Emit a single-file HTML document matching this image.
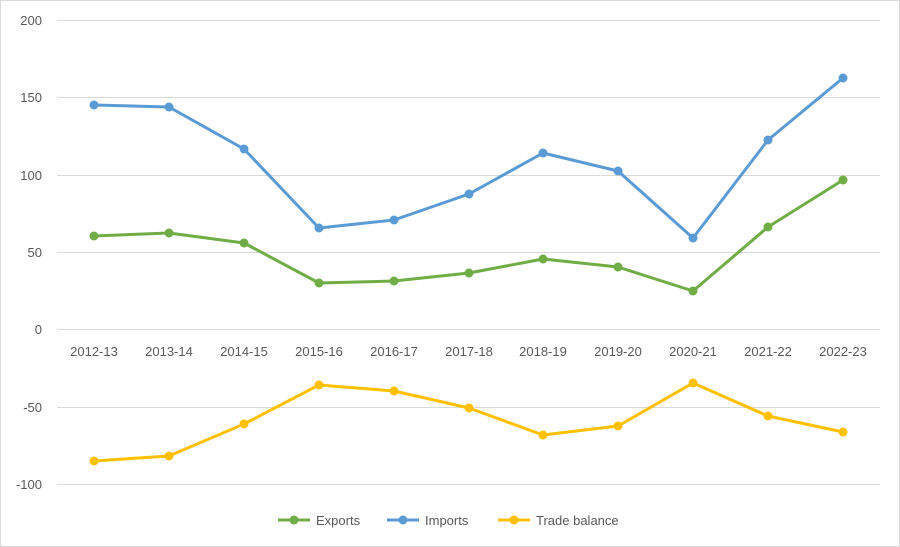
<!DOCTYPE html>
<html><head><meta charset="utf-8"><style>
html,body{margin:0;padding:0;background:#fff}
svg{display:block}
text{font-family:"Liberation Sans",sans-serif;font-size:13px;fill:#595959}
</style></head><body>
<svg width="900" height="547" viewBox="0 0 900 547">
<rect x="0.5" y="0.5" width="899" height="546" fill="#fff" stroke="#d9d9d9"/>
<g stroke="#d9d9d9" stroke-width="1">
<line x1="57" x2="880" y1="20.5" y2="20.5"/>
<line x1="57" x2="880" y1="97.5" y2="97.5"/>
<line x1="57" x2="880" y1="175.5" y2="175.5"/>
<line x1="57" x2="880" y1="252.5" y2="252.5"/>
<line x1="57" x2="880" y1="329.5" y2="329.5"/>
<line x1="57" x2="880" y1="407.5" y2="407.5"/>
<line x1="57" x2="880" y1="484.5" y2="484.5"/>
</g>
<g text-anchor="end">
<text x="42" y="25">200</text><text x="42" y="102">150</text><text x="42" y="180">100</text>
<text x="42" y="257">50</text><text x="42" y="334">0</text><text x="42" y="412">-50</text><text x="42" y="489">-100</text>
</g>
<g text-anchor="middle">
<text x="94" y="356">2012-13</text><text x="169" y="356">2013-14</text><text x="244" y="356">2014-15</text>
<text x="319" y="356">2015-16</text><text x="394" y="356">2016-17</text><text x="469" y="356">2017-18</text>
<text x="543" y="356">2018-19</text><text x="618" y="356">2019-20</text><text x="693" y="356">2020-21</text>
<text x="768" y="356">2021-22</text><text x="843" y="356">2022-23</text>
</g>
<g fill="none" stroke-width="3" stroke-linejoin="round">
<polyline stroke="#5b9bd5" points="94,105 169,107 244,149 319,228 394,220 469,194 543,153 618,171 693,238 768,140 843,78"/>
<polyline stroke="#70ad47" points="94,236 169,233 244,243 319,283 394,281 469,273 543,259 618,267 693,291 768,227 843,180"/>
<polyline stroke="#ffc000" points="94,461 169,456 244,424 319,385 394,391 469,408 543,435 618,426 693,383 768,416 843,432"/>
</g>
<g fill="#5b9bd5">
<circle cx="94" cy="105" r="4.5"/><circle cx="169" cy="107" r="4.5"/><circle cx="244" cy="149" r="4.5"/><circle cx="319" cy="228" r="4.5"/><circle cx="394" cy="220" r="4.5"/><circle cx="469" cy="194" r="4.5"/><circle cx="543" cy="153" r="4.5"/><circle cx="618" cy="171" r="4.5"/><circle cx="693" cy="238" r="4.5"/><circle cx="768" cy="140" r="4.5"/><circle cx="843" cy="78" r="4.5"/>
</g>
<g fill="#70ad47">
<circle cx="94" cy="236" r="4.5"/><circle cx="169" cy="233" r="4.5"/><circle cx="244" cy="243" r="4.5"/><circle cx="319" cy="283" r="4.5"/><circle cx="394" cy="281" r="4.5"/><circle cx="469" cy="273" r="4.5"/><circle cx="543" cy="259" r="4.5"/><circle cx="618" cy="267" r="4.5"/><circle cx="693" cy="291" r="4.5"/><circle cx="768" cy="227" r="4.5"/><circle cx="843" cy="180" r="4.5"/>
</g>
<g fill="#ffc000">
<circle cx="94" cy="461" r="4.5"/><circle cx="169" cy="456" r="4.5"/><circle cx="244" cy="424" r="4.5"/><circle cx="319" cy="385" r="4.5"/><circle cx="394" cy="391" r="4.5"/><circle cx="469" cy="408" r="4.5"/><circle cx="543" cy="435" r="4.5"/><circle cx="618" cy="426" r="4.5"/><circle cx="693" cy="383" r="4.5"/><circle cx="768" cy="416" r="4.5"/><circle cx="843" cy="432" r="4.5"/>
</g>
<g stroke-width="3">
<line x1="278" x2="310" y1="520" y2="520" stroke="#70ad47"/><circle cx="294" cy="520" r="4.5" fill="#70ad47"/>
<line x1="387" x2="419" y1="520" y2="520" stroke="#5b9bd5"/><circle cx="403" cy="520" r="4.5" fill="#5b9bd5"/>
<line x1="498" x2="530" y1="520" y2="520" stroke="#ffc000"/><circle cx="514" cy="520" r="4.5" fill="#ffc000"/>
</g>
<text x="316" y="525">Exports</text>
<text x="425" y="525">Imports</text>
<text x="536" y="525">Trade balance</text>
</svg>
</body></html>
